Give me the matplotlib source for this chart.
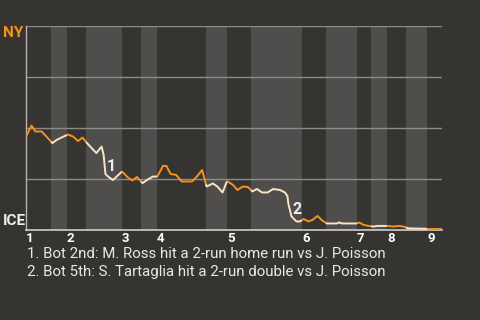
import numpy as np
import matplotlib
matplotlib.use("Agg")
import matplotlib.pyplot as plt

plt.rcParams['font.family'] = ['Roboto', 'DejaVu Sans']

# win probability for NY, by play number
plays = [0.1, 1.6, 2.7, 4.5, 5.9, 7.6, 8.8, 10.2, 12.1, 13.6, 15.0, 16.3,
         17.6, 18.9, 20.3, 21.8, 22.4, 22.9, 23.8, 25.1, 27.7, 29.4, 30.7,
         32.0, 33.6, 35.2, 36.6, 37.9, 39.5, 40.5, 41.7, 43.3, 44.9, 47.9,
         49.3, 50.8, 52.1, 53.9, 55.2, 56.7, 58.0, 59.7, 61.0, 62.5, 64.0,
         65.3, 66.6, 68.1, 69.7, 71.3, 73.3, 74.7, 75.4, 75.7, 76.6, 78.0,
         79.0, 80.1, 81.4, 82.6, 84.1, 85.4, 86.8, 89.7, 90.3, 91.2, 95.5,
         96.1, 97.4, 98.8, 100.2, 101.4, 104.1, 106.0, 107.5, 108.9, 110.3,
         115.7, 120.0]
wp_ny = [0.461, 0.512, 0.483, 0.483, 0.458, 0.426, 0.441, 0.453, 0.468,
         0.458, 0.436, 0.453, 0.426, 0.402, 0.377, 0.409, 0.368, 0.275,
         0.260, 0.245, 0.287, 0.257, 0.243, 0.260, 0.230, 0.248, 0.262,
         0.262, 0.314, 0.314, 0.275, 0.270, 0.238, 0.238, 0.262, 0.294,
         0.213, 0.228, 0.213, 0.184, 0.240, 0.221, 0.196, 0.213, 0.211,
         0.189, 0.201, 0.184, 0.184, 0.201, 0.196, 0.184, 0.167, 0.127,
         0.066, 0.042, 0.042, 0.054, 0.042, 0.049, 0.069, 0.047, 0.032,
         0.032, 0.037, 0.032, 0.032, 0.037, 0.025, 0.020, 0.017, 0.020,
         0.020, 0.017, 0.020, 0.017, 0.008, 0.006, 0.006]

# play number where each half inning starts (top 1, bot 1, top 2, ...)
half_starts = [0, 7.2, 11.8, 17.3, 27.7, 33.2, 37.8, 51.9, 58.0, 64.9,
               79.6, 86.5, 95.5, 99.5, 104.1, 109.6, 115.7]
game_end = 120
innings = ['1', '2', '3', '4', '5', '6', '7', '8', '9']

notes = ["1. Bot 2nd: M. Ross hit a 2-run home run vs J. Poisson",
         "2. Bot 5th: S. Tartaglia hit a 2-run double vs J. Poisson"]
note_plays = [22.9, 76.6]
note_wp = [0.275, 0.066]

bg = '#363430'
band = '#4f4e4c'
orange = '#f7901e'
cream = '#fbe3c6'

fig = plt.figure(figsize=(4.8, 3.2), dpi=100, facecolor=bg)
ax = fig.add_axes([26 / 480, 90 / 320, 416 / 480, 204 / 320])
ax.set_facecolor(bg)

x = np.array(plays)
y = np.array(wp_ny)
edges = half_starts + [game_end]
for i in range(len(half_starts)):
    a, b = edges[i], edges[i + 1]
    if i % 2 == 1:
        ax.axvspan(a, b, color=band, lw=0, zorder=0)
    m = (x > a) & (x < b)
    xs = np.concatenate([[a], x[m], [b]])
    ys = np.concatenate([[np.interp(a, x, y)], y[m], [np.interp(b, x, y)]])
    ax.plot(xs, ys, color=orange if i % 2 == 0 else cream, lw=1.4,
            solid_capstyle='butt', zorder=3)

for g in [0.25, 0.5, 0.75, 1.0]:
    ax.axhline(g, color='#8c8b89', lw=1, zorder=1)

ax.set_xlim(0, game_end)
ax.set_ylim(0, 1)
ax.set_yticks([])
for s in ['top', 'right']:
    ax.spines[s].set_visible(False)
ax.spines['left'].set_color('#b5b4b2')
ax.spines['bottom'].set_color('#cfcecc')
ax.spines['left'].set_linewidth(1)
ax.spines['bottom'].set_linewidth(1.2)

ax.set_xticks(half_starts[::2])
ax.set_xticklabels(innings, fontsize=9.5, fontweight='bold', color='white')
for lab in ax.get_xticklabels():
    lab.set_horizontalalignment('left')
ax.tick_params(axis='x', length=0, pad=1.5)

for k, (px, py) in enumerate(zip(note_plays, note_wp)):
    ax.text(px + 0.4, py, str(k + 1), color='#eeeeee', fontsize=11.5,
            fontweight='bold', ha='left', va='bottom', zorder=4)

fig.text(3 / 480, 294 / 320, 'NY', color=orange, fontsize=11,
         fontweight='bold', va='top', ha='left')
fig.text(3 / 480, 95 / 320, 'ICE', color='#eeeeee', fontsize=11,
         fontweight='bold', va='baseline', ha='left')

fig.text(27 / 480, 62 / 320, notes[0], color='#e8e8e8', fontsize=10.8,
         va='baseline', ha='left')
fig.text(27 / 480, 44 / 320, notes[1], color='#e8e8e8', fontsize=10.8,
         va='baseline', ha='left')

fig.savefig('out.png', dpi=100, facecolor=bg)
